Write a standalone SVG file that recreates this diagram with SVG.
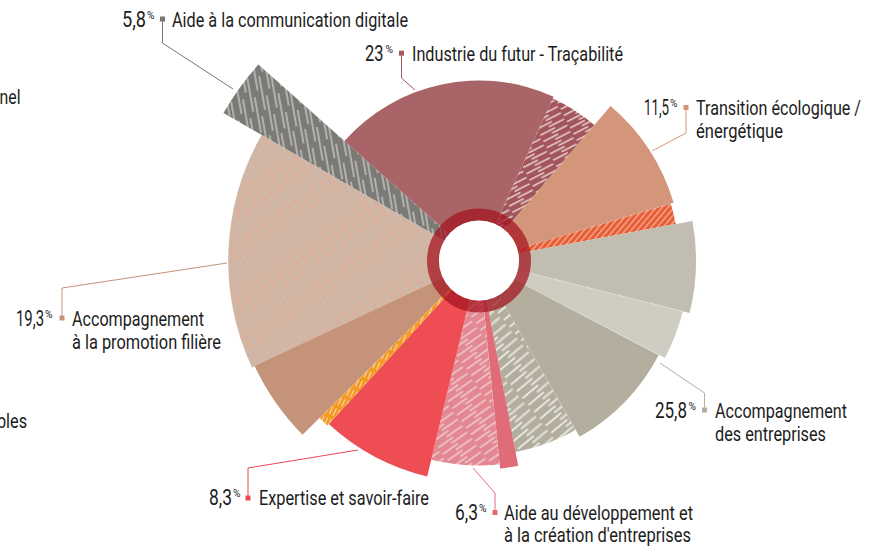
<svg xmlns="http://www.w3.org/2000/svg" width="877" height="550" viewBox="0 0 877 550">
<style>
  text { font-family: Roboto, "Liberation Sans", sans-serif; fill: #1c1c1c; }
  .num { font-size: 22px; }
  .pct { font-size: 10px; }
  .lbl { font-size: 19.5px; }
  .lead { fill: none; stroke-width: 1; }
  .sep { stroke: #ffffff; stroke-opacity: 0.7; stroke-width: 0.8; stroke-dasharray: 1.5 1.5; }
</style>
<defs>
  <pattern id="pDigital" patternUnits="userSpaceOnUse" width="12" height="60" patternTransform="rotate(-10)">
    <rect width="12" height="60" fill="#7b7a76"/>
    <line x1="2" y1="0" x2="2" y2="34" stroke="#cdcdca" stroke-width="1.3"/>
    <line x1="6" y1="20" x2="6" y2="56" stroke="#cdcdca" stroke-width="1.3"/>
    <line x1="10" y1="40" x2="10" y2="60" stroke="#cdcdca" stroke-width="1.3"/>
    <line x1="10" y1="0" x2="10" y2="14" stroke="#cdcdca" stroke-width="1.3"/>
  </pattern>
  <pattern id="pPeach" patternUnits="userSpaceOnUse" width="10" height="80" patternTransform="rotate(-35)">
    <rect width="10" height="80" fill="#d6b39e"/>
    <line x1="2" y1="0" x2="2" y2="52" stroke="#c3c1bf" stroke-width="1.2"/>
    <line x1="7" y1="30" x2="7" y2="80" stroke="#c3c1bf" stroke-width="1.2"/>
    <line x1="7" y1="0" x2="7" y2="10" stroke="#c3c1bf" stroke-width="1.2"/>
  </pattern>
  <pattern id="pMauve" patternUnits="userSpaceOnUse" width="30" height="7" patternTransform="rotate(-27)">
    <rect width="30" height="7" fill="#a2555a"/>
    <line x1="0" y1="1.8" x2="16" y2="1.8" stroke="#ead0d0" stroke-width="1.5" stroke-linecap="round"/>
    <line x1="12" y1="5.3" x2="28" y2="5.3" stroke="#ead0d0" stroke-width="1.5" stroke-linecap="round"/>
  </pattern>
  <pattern id="pRedOrange" patternUnits="userSpaceOnUse" width="4.5" height="20" patternTransform="rotate(40)">
    <rect width="4.5" height="20" fill="#e65d36"/>
    <line x1="1.5" y1="0" x2="1.5" y2="20" stroke="#f5b49a" stroke-width="1.2"/>
  </pattern>
  <pattern id="pGrayH" patternUnits="userSpaceOnUse" width="36" height="9" patternTransform="rotate(-40)">
    <rect width="36" height="9" fill="#b3ad9e"/>
    <line x1="1" y1="2" x2="20" y2="2" stroke="#e6e4de" stroke-width="1.8" stroke-linecap="round"/>
    <line x1="16" y1="6.5" x2="34" y2="6.5" stroke="#e6e4de" stroke-width="1.8" stroke-linecap="round"/>
  </pattern>
  <pattern id="pPinkH" patternUnits="userSpaceOnUse" width="34" height="8" patternTransform="rotate(-35)">
    <rect width="34" height="8" fill="#e38892"/>
    <line x1="1" y1="2" x2="18" y2="2" stroke="#efcdd0" stroke-width="1.7" stroke-linecap="round"/>
    <line x1="14" y1="6" x2="32" y2="6" stroke="#efcdd0" stroke-width="1.7" stroke-linecap="round"/>
  </pattern>
  <pattern id="pOrange" patternUnits="userSpaceOnUse" width="4" height="12" patternTransform="rotate(25)">
    <rect width="4" height="12" fill="#f39a22"/>
    <line x1="1.5" y1="0" x2="1.5" y2="8" stroke="#f8dcb0" stroke-width="1.1"/>
  </pattern>
</defs>

<!-- Accompagnement à la promotion filière -->
<g id="node-promotion">
  <path d="M479,260.5 L251.9,367.4 A253,253 0 0 1 261.6,135 Z" fill="url(#pPeach)"/>
  <path d="M479,260.5 L302.5,434.8 A248,248 0 0 1 254.6,366.1 Z" fill="#c4937a"/>
  <rect x="59.5" y="315.5" width="5" height="5" fill="#c4937a"/>
  <text class="num" x="16" y="326" textLength="28" lengthAdjust="spacingAndGlyphs">19,3</text>
  <text class="pct" x="45" y="318" textLength="7.5" lengthAdjust="spacingAndGlyphs">%</text>
  <text class="lbl" x="72" y="326" textLength="132" lengthAdjust="spacingAndGlyphs">Accompagnement</text>
  <text class="lbl" x="72" y="349" textLength="149" lengthAdjust="spacingAndGlyphs">à la promotion filière</text>
</g>

<!-- Aide à la communication digitale -->
<g id="node-digital">
  <path d="M479,260.5 L223.5,113 A295,295 0 0 1 258.4,64.6 Z" fill="url(#pDigital)"/>
  <rect x="160" y="16.5" width="5" height="5" fill="#77756f"/>
  <text class="num" x="122" y="27" textLength="24" lengthAdjust="spacingAndGlyphs">5,8</text>
  <text class="pct" x="147" y="19" textLength="7.5" lengthAdjust="spacingAndGlyphs">%</text>
  <text class="lbl" x="172" y="27" textLength="236" lengthAdjust="spacingAndGlyphs">Aide à la communication digitale</text>
</g>

<!-- Industrie du futur - Traçabilité -->
<g id="node-industrie">
  <path d="M479,260.5 L344.4,141 A180,180 0 0 1 553.6,96.7 Z" fill="#a86466"/>
  <path d="M479,260.5 L552.8,98.5 A178,178 0 0 1 594.4,125 Z" fill="url(#pMauve)"/>
  <rect x="399" y="50.7" width="5" height="5" fill="#a5575b"/>
  <text class="num" x="365" y="61" textLength="18.5" lengthAdjust="spacingAndGlyphs">23</text>
  <text class="pct" x="385.5" y="53" textLength="7.5" lengthAdjust="spacingAndGlyphs">%</text>
  <text class="lbl" x="412" y="61" textLength="211" lengthAdjust="spacingAndGlyphs">Industrie du futur - Traçabilité</text>
</g>

<!-- Transition écologique / énergétique -->
<g id="node-transition">
  <path d="M479,260.5 L610.6,105.9 A203,203 0 0 1 673.6,202.8 Z" fill="#d4967a"/>
  <path d="M479,260.5 L670.8,203.7 A200,200 0 0 1 675.7,224.1 Z" fill="url(#pRedOrange)"/>
  <rect x="683.5" y="105" width="5" height="5" fill="#d4967a"/>
  <text class="num" x="644" y="115" textLength="25" lengthAdjust="spacingAndGlyphs">11,5</text>
  <text class="pct" x="670" y="107" textLength="7.5" lengthAdjust="spacingAndGlyphs">%</text>
  <text class="lbl" x="696" y="115" textLength="165" lengthAdjust="spacingAndGlyphs">Transition écologique /</text>
  <text class="lbl" x="696" y="138" textLength="87" lengthAdjust="spacingAndGlyphs">énergétique</text>
</g>

<!-- Accompagnement des entreprises -->
<g id="node-entreprises">
  <path d="M479,260.5 L692.4,221 A217,217 0 0 1 689.6,313 Z" fill="#c1bdb0"/>
  <path d="M479,260.5 L682.8,311.3 A210,210 0 0 1 664.9,358.1 Z" fill="#cfccc1"/>
  <path d="M479,260.5 L658.7,354.9 A203,203 0 0 1 579.6,436.8 Z" fill="#b4ae9f"/>
  <path d="M479,260.5 L575.6,429.9 A195,195 0 0 1 515.5,452 Z" fill="url(#pGrayH)"/>
  <line class="sep" x1="530" y1="273" x2="682.8" y2="311.3"/>
  <line class="sep" x1="525" y1="285" x2="658.7" y2="354.9"/>
  <rect x="702" y="407.5" width="5" height="5" fill="#b5ad9d"/>
  <text class="num" x="655" y="418" textLength="32" lengthAdjust="spacingAndGlyphs">25,8</text>
  <text class="pct" x="688.5" y="410" textLength="7.5" lengthAdjust="spacingAndGlyphs">%</text>
  <text class="lbl" x="715" y="418" textLength="132" lengthAdjust="spacingAndGlyphs">Accompagnement</text>
  <text class="lbl" x="715" y="441" textLength="111" lengthAdjust="spacingAndGlyphs">des entreprises</text>
</g>

<!-- Aide au développement et à la création d'entreprises -->
<g id="node-developpement">
  <path d="M479,260.5 L518.2,465.8 A209,209 0 0 1 500.1,468.4 Z" fill="#e06c7a"/>
  <path d="M479,260.5 L499.7,464.5 A205,205 0 0 1 431.2,459.8 Z" fill="url(#pPinkH)"/>
  <rect x="492.5" y="510" width="5" height="5" fill="#e06c7a"/>
  <text class="num" x="455" y="520" textLength="23" lengthAdjust="spacingAndGlyphs">6,3</text>
  <text class="pct" x="479" y="512" textLength="7.5" lengthAdjust="spacingAndGlyphs">%</text>
  <text class="lbl" x="504" y="520" textLength="189" lengthAdjust="spacingAndGlyphs">Aide au développement et</text>
  <text class="lbl" x="504" y="542" textLength="187" lengthAdjust="spacingAndGlyphs">à la création d'entreprises</text>
</g>

<!-- Expertise et savoir-faire -->
<g id="node-expertise">
  <path d="M479,260.5 L427.2,476.4 A222,222 0 0 1 328.7,423.9 Z" fill="#ee4d53"/>
  <path d="M479,260.5 L327.4,425.4 A224,224 0 0 1 319.6,417.9 Z" fill="url(#pOrange)"/>
  <rect x="245.5" y="495.5" width="5" height="5" fill="#e84850"/>
  <text class="num" x="209" y="505" textLength="23" lengthAdjust="spacingAndGlyphs">8,3</text>
  <text class="pct" x="233" y="497" textLength="7.5" lengthAdjust="spacingAndGlyphs">%</text>
  <text class="lbl" x="259" y="505" textLength="170" lengthAdjust="spacingAndGlyphs">Expertise et savoir-faire</text>
</g>

<!-- Centre ring -->
<g id="node-centre">
  <circle cx="479" cy="260.5" r="46" fill="none" stroke="#a3121f" stroke-opacity="0.72" stroke-width="12"/>
  <circle cx="479" cy="260.5" r="40" fill="#ffffff"/>
</g>

<!-- Partially cropped labels at the left edge -->
<g id="node-cropped">
  <text class="lbl" x="-0.5" y="104" textLength="21" lengthAdjust="spacingAndGlyphs">nel</text>
  <text class="lbl" x="-3" y="428" textLength="30" lengthAdjust="spacingAndGlyphs">bles</text>
</g>

<!-- Leader lines -->
<g id="connectors">
  <path class="lead" stroke="#77756f" d="M162.5,21 V43 L233,89"/>
  <path class="lead" stroke="#a5575b" d="M401.5,55.5 V78 L415,90"/>
  <path class="lead" stroke="#d4967a" d="M686,110 V133 L652,151"/>
  <path class="lead" stroke="#c4937a" d="M62,315.5 V288 L227,263"/>
  <path class="lead" stroke="#e84850" d="M248,495.5 V468 L358,450"/>
  <path class="lead" stroke="#e06c7a" d="M495,510 V493 L473,468"/>
  <path class="lead" stroke="#b5ad9d" d="M704.5,407.5 V393 L660,363"/>
</g>
</svg>
